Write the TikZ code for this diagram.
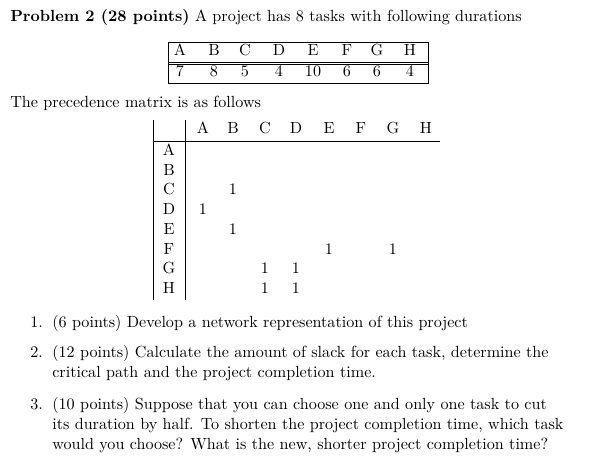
\documentclass[tikz,border=0pt]{standalone}
\begin{document}
\begin{tikzpicture}[x=0.62pt,y=-0.62pt,
  txt/.style={anchor=base west,inner sep=0pt},
  cell/.style={anchor=center,inner sep=0pt}]
\useasboundingbox (0,0) rectangle (600,469);
\node[txt] (t1) at (10,22) {\textbf{Problem 2 (28 points)} A project has 8 tasks with following durations};
% duration table
\draw (168,42) rectangle (428,83);
\draw (168,62.5) -- (428,62.5);
\draw (168,64.5) -- (428,64.5);
\foreach \l/\d/\x in {A/7/180,B/8/214,C/5/245,D/4/279,E/10/313,F/6/347,G/6/377,H/4/410}{
  \node[cell] (h\l) at (\x,52) {\strut\l};
  \node[cell] (d\l) at (\x,73) {\strut\d};
}
\node[txt] (t2) at (10,108) {The precedence matrix is as follows};
% matrix
\draw (153,120) -- (153,300);
\draw (185,120) -- (185,300);
\draw (153,141) -- (440,141);
\foreach \l/\x in {A/203,B/233,C/265,D/296,E/329,F/361,G/393,H/426}{
  \node[cell] (c\l) at (\x,130) {\strut\l};
}
\foreach \l/\y in {A/152,B/172,C/191,D/211,E/231,F/251,G/270,H/290}{
  \node[cell] (r\l) at (169,\y) {\strut\l};
}
\foreach \x/\y [count=\i] in {233/191,203/211,233/231,329/251,393/251,265/270,296/270,265/290,296/290}{
  \node[cell] (one\i) at (\x,\y) {\strut 1};
}
\node[txt] (n1) at (30,327) {1.};
\node[txt] (i1) at (52,327) {(6 points) Develop a network representation of this project};
\node[txt] (n2) at (30,357) {2.};
\node[txt] (i2a) at (52,357) {(12 points) Calculate the amount of slack for each task, determine the};
\node[txt] (i2b) at (52,377) {critical path and the project completion time.};
\node[txt] (n3) at (30,409) {3.};
\node[txt] (i3a) at (52,409) {(10 points) Suppose that you can choose one and only one task to cut};
\node[txt] (i3b) at (52,429) {its duration by half. To shorten the project completion time, which task};
\node[txt] (i3c) at (52,449) {would you choose? What is the new, shorter project completion time?};
\end{tikzpicture}
\end{document}
